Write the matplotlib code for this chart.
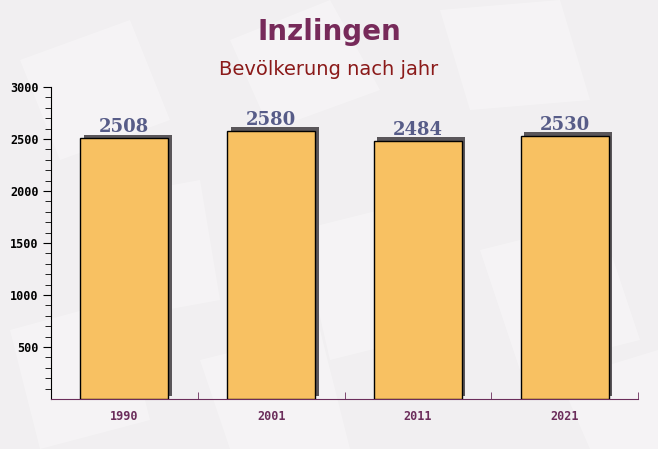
import matplotlib.pyplot as plt
import matplotlib.transforms as mtransforms
from matplotlib.patches import Polygon

years = ['1990', '2001', '2011', '2021']
population = [2508, 2580, 2484, 2530]

fig = plt.figure(figsize=(6.58, 4.49), dpi=100)
fig.patch.set_facecolor('#f1eff1')

# faint envelope-ish shapes in the background
bg = fig.add_axes([0, 0, 1, 1], zorder=-10)
bg.set_xlim(0, 658)
bg.set_ylim(449, 0)
bg.axis('off')
shapes = [
    [(20, 60), (130, 20), (170, 120), (60, 160)],
    [(230, 40), (330, 0), (380, 90), (270, 130)],
    [(440, 10), (560, 0), (590, 100), (470, 110)],
    [(90, 200), (200, 180), (220, 300), (110, 320)],
    [(300, 230), (420, 200), (450, 330), (330, 360)],
    [(480, 250), (600, 220), (640, 340), (520, 370)],
    [(10, 330), (120, 300), (150, 420), (40, 449)],
    [(200, 360), (320, 330), (350, 449), (230, 449)],
    [(560, 380), (658, 350), (658, 449), (590, 449)],
]
for s in shapes:
    bg.add_patch(Polygon(s, closed=True, facecolor='white', alpha=0.3, edgecolor='none'))

ax = fig.add_axes([51 / 658, 50 / 449, 587 / 658, 312 / 449])
ax.set_facecolor('none')

x = range(len(years))
shadow = mtransforms.offset_copy(ax.transData, fig=fig, x=3.5, y=3.5, units='dots')
ax.bar(x, population, width=0.6, color='#5a565a', transform=shadow, zorder=2)
bars = ax.bar(x, population, width=0.6, color='#f8c162', edgecolor='black',
              linewidth=1, zorder=3)

for xi, v in zip(x, population):
    ax.annotate(str(v), (xi, v), xytext=(0, 1.5), textcoords='offset points',
                ha='center', va='bottom', fontsize=13, fontweight='bold',
                family='DejaVu Serif', color='#575c88', zorder=4)

ax.set_xlim(-0.5, 3.5)
ax.set_ylim(0, 3000)
ax.set_yticks([500, 1000, 1500, 2000, 2500, 3000])
ax.set_yticks(range(100, 3000, 100), minor=True)
ax.set_xticks(list(x))
ax.set_xticklabels(years)
ax.set_xticks([0.5, 1.5, 2.5, 3.5], minor=True)

ax.spines['top'].set_visible(False)
ax.spines['right'].set_visible(False)
ax.spines['left'].set_color('black')
ax.spines['bottom'].set_color('#6b2d5b')

ax.tick_params(axis='y', which='major', length=6, color='black', labelsize=8.5,
               labelcolor='black', pad=3)
ax.tick_params(axis='y', which='minor', length=4, color='black')
ax.tick_params(axis='x', which='major', length=0, labelsize=8.5,
               labelcolor='#6b2d5b', pad=8)
ax.tick_params(axis='x', which='minor', direction='in', length=5, color='#6b2d5b')
for lbl in ax.get_xticklabels() + ax.get_yticklabels():
    lbl.set_family('DejaVu Sans Mono')
    lbl.set_fontweight('bold')

fig.text(0.5, 0.929, 'Inzlingen', ha='center', va='center', fontsize=20,
         fontweight='bold', color='#772a5a')
fig.text(0.5, 0.845, 'Bevölkerung nach jahr', ha='center', va='center',
         fontsize=14, color='#8b1a1a')

fig.savefig('out.png', dpi=100, facecolor=fig.get_facecolor())
